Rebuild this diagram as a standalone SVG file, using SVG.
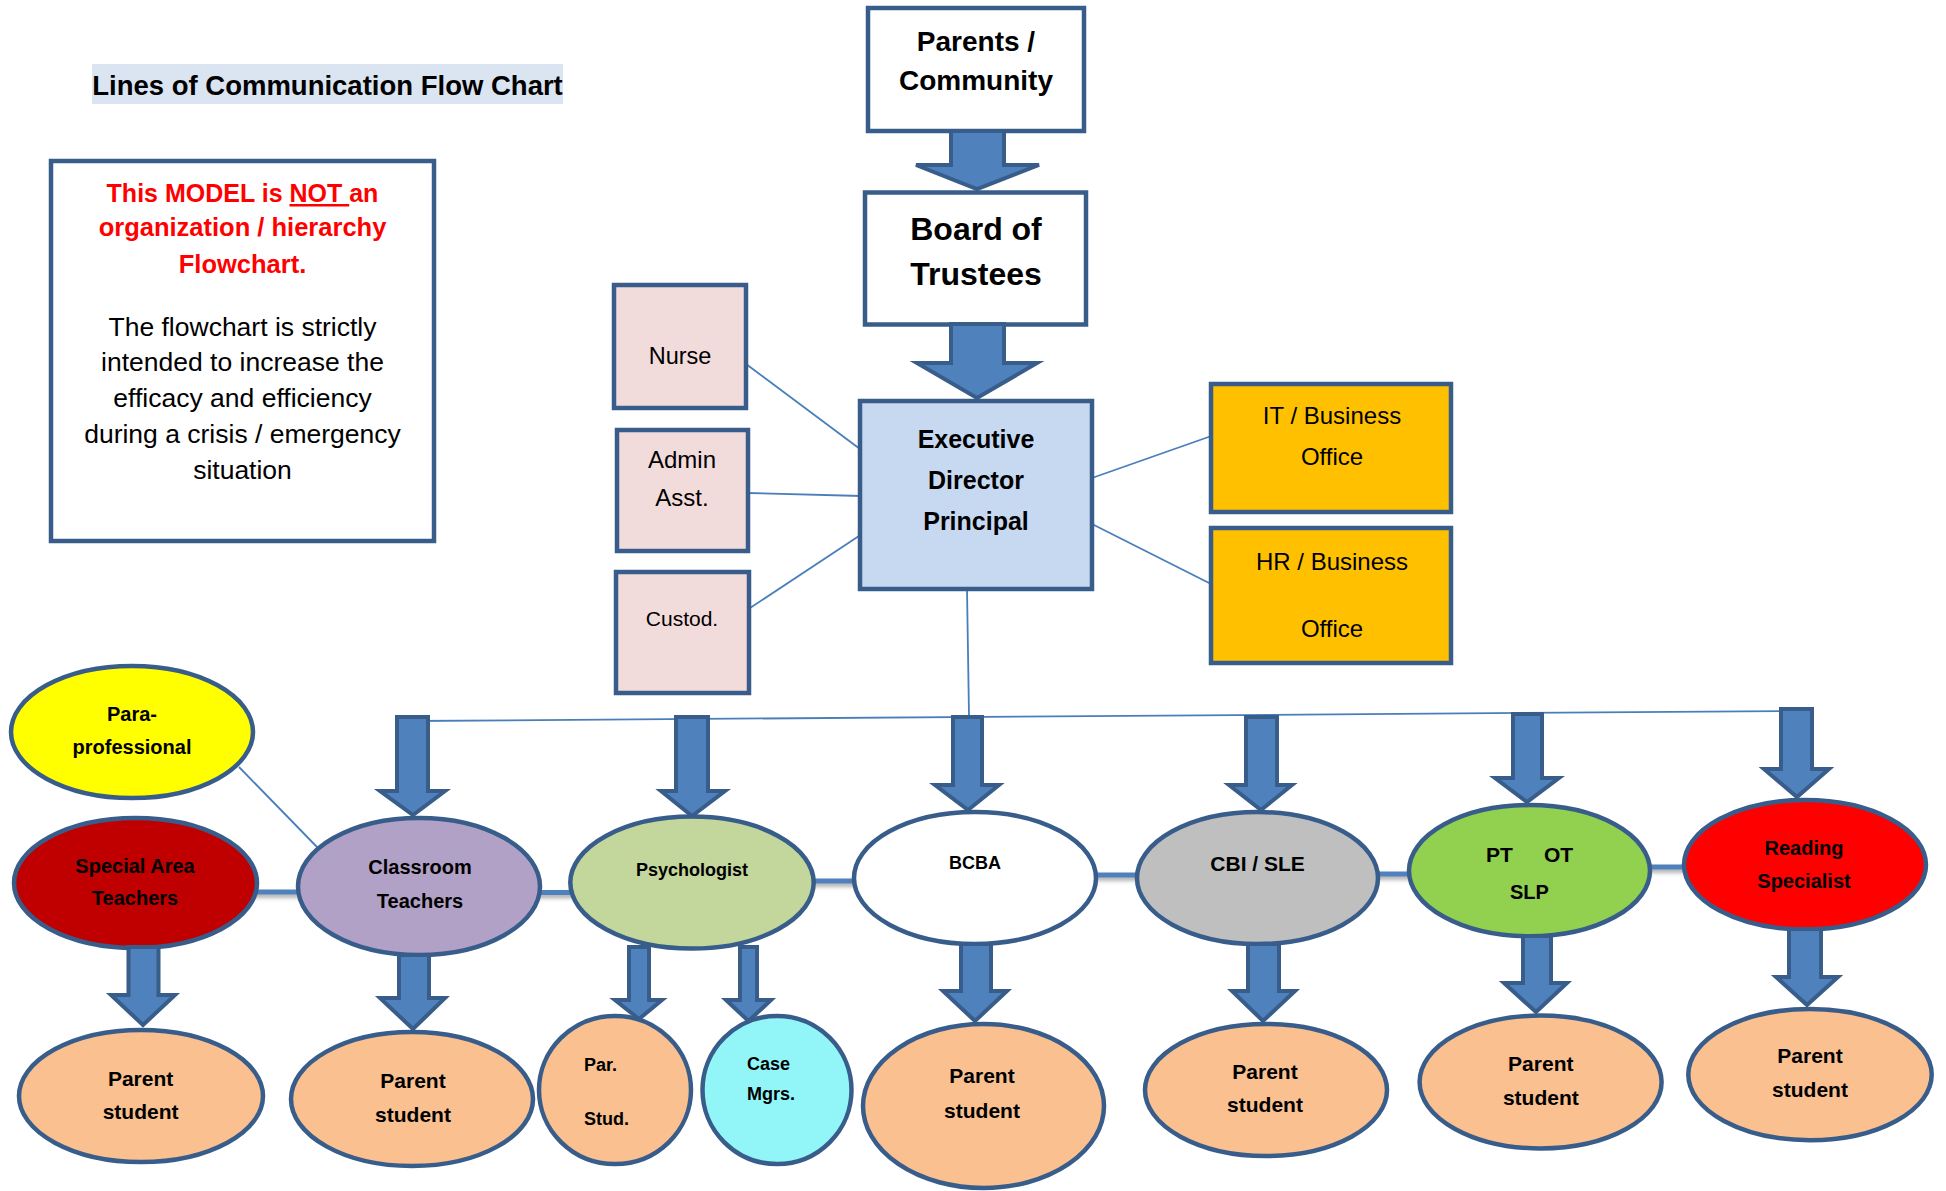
<svg xmlns="http://www.w3.org/2000/svg" width="1946" height="1191" viewBox="0 0 1946 1191">
<defs>
<style>
text{font-family:"Liberation Sans",Arial,sans-serif;fill:#000;text-anchor:middle}
.b{font-weight:bold}
.box{stroke:#385D8A;stroke-width:4.5}
.ell{stroke:#385D8A;stroke-width:4.5}
.arr{fill:#4F81BD;stroke:#385D8A;stroke-width:4;stroke-linejoin:miter}
.thin{stroke:#4A7EBB;stroke-width:1.8;fill:none}
.bar{stroke:#4F81BD;stroke-width:5;fill:none}
.ps{fill:#FAC090}
.red{fill:#FF0000}
.st{text-anchor:start}
</style>
<filter id="sh" x="-20%" y="-100%" width="140%" height="400%">
<feDropShadow dx="0" dy="3" stdDeviation="2" flood-color="#808080" flood-opacity="0.7"/>
</filter>
</defs>
<rect width="1946" height="1191" fill="#fff"/>

<g id="title">
<rect x="92" y="64" width="471" height="40" fill="#DBE5F1"/>
<text class="b" x="327.5" y="95" font-size="27.5">Lines of Communication Flow Chart</text>
</g>

<g id="note">
<rect class="box" x="51" y="161" width="383" height="380" fill="#fff"/>
<text class="b red" x="242.5" y="202" font-size="25">This MODEL is <tspan text-decoration="underline">NOT </tspan>an</text>
<text class="b red" x="242.5" y="236" font-size="25.5">organization / hierarchy</text>
<text class="b red" x="242.5" y="273" font-size="25.5">Flowchart.</text>
<text x="242.5" y="336" font-size="26.5">The flowchart is strictly</text>
<text x="242.5" y="371" font-size="26.5">intended to increase the</text>
<text x="242.5" y="407" font-size="26.5">efficacy and efficiency</text>
<text x="242.5" y="443" font-size="26.5">during a crisis / emergency</text>
<text x="242.5" y="479" font-size="26.5">situation</text>
</g>

<g id="connectors">
<line class="thin" x1="746" y1="364" x2="860" y2="449"/>
<line class="thin" x1="748" y1="493" x2="862" y2="496"/>
<line class="thin" x1="750" y1="608" x2="865" y2="532"/>
<line class="thin" x1="1092" y1="478" x2="1217" y2="434"/>
<line class="thin" x1="1092" y1="524" x2="1217" y2="587"/>
<line class="thin" x1="967" y1="589" x2="969" y2="716"/>
<line class="thin" x1="413" y1="721" x2="1797" y2="711"/>
<line class="thin" x1="239" y1="767" x2="317" y2="847"/>
<g filter="url(#sh)">
<line class="bar" x1="253" y1="892" x2="300" y2="892"/>
<line class="bar" x1="532" y1="892.5" x2="573" y2="892.5"/>
<line class="bar" x1="812" y1="881" x2="856" y2="881"/>
<line class="bar" x1="1094" y1="875" x2="1139" y2="875"/>
<line class="bar" x1="1376" y1="874" x2="1411" y2="874"/>
<line class="bar" x1="1648" y1="867" x2="1686" y2="867"/>
</g>
</g>

<g id="parents">
<rect class="box" x="868" y="8" width="216" height="123" fill="#fff"/>
<text class="b" x="976" y="51" font-size="28">Parents /</text>
<text class="b" x="976" y="90" font-size="28">Community</text>
</g>
<g id="board">
<rect class="box" x="865" y="192.5" width="221" height="132" fill="#fff"/>
<text class="b" x="976" y="240" font-size="32">Board of</text>
<text class="b" x="976" y="285" font-size="32">Trustees</text>
</g>
<g id="exec">
<rect class="box" x="860" y="401" width="232" height="188" fill="#C6D9F1"/>
<text class="b" x="976" y="448" font-size="25">Executive</text>
<text class="b" x="976" y="489" font-size="25">Director</text>
<text class="b" x="976" y="530" font-size="25">Principal</text>
</g>
<g id="nurse">
<rect class="box" x="614" y="285" width="132" height="123" fill="#F2DCDB"/>
<text x="680" y="364" font-size="23.5">Nurse</text>
</g>
<g id="admin">
<rect class="box" x="617" y="430" width="131" height="121" fill="#F2DCDB"/>
<text x="682" y="468" font-size="24">Admin</text>
<text x="682" y="506" font-size="24">Asst.</text>
</g>
<g id="custod">
<rect class="box" x="616" y="572" width="133" height="121" fill="#F2DCDB"/>
<text x="682" y="626" font-size="21">Custod.</text>
</g>
<g id="it">
<rect class="box" x="1211" y="384" width="240" height="128" fill="#FFC000"/>
<text x="1332" y="424" font-size="24">IT / Business</text>
<text x="1332" y="465" font-size="24">Office</text>
</g>
<g id="hr">
<rect class="box" x="1211" y="528" width="240" height="135" fill="#FFC000"/>
<text x="1332" y="570" font-size="24">HR / Business</text>
<text x="1332" y="637" font-size="24">Office</text>
</g>

<g id="para">
<ellipse class="ell" cx="132" cy="732" rx="121" ry="66" fill="#FFFF00"/>
<text class="b" x="132" y="721" font-size="20">Para-</text>
<text class="b" x="132" y="753.5" font-size="20">professional</text>
</g>
<g id="special">
<ellipse class="ell" cx="135.5" cy="883" rx="121.5" ry="65" fill="#C00000"/>
<text class="b" x="135" y="872.6" font-size="20">Special Area</text>
<text class="b" x="135" y="905" font-size="20">Teachers</text>
</g>
<g id="classroom">
<ellipse class="ell" cx="419" cy="886.5" rx="121" ry="68.5" fill="#B2A1C7"/>
<text class="b" x="420" y="874" font-size="20">Classroom</text>
<text class="b" x="420" y="908" font-size="20">Teachers</text>
</g>
<g id="psych">
<ellipse class="ell" cx="692" cy="882.6" rx="121.7" ry="66" fill="#C3D69B"/>
<text class="b" x="692" y="876" font-size="18">Psychologist</text>
</g>
<g id="bcba">
<ellipse class="ell" cx="975" cy="878" rx="121" ry="66" fill="#fff"/>
<text class="b" x="975" y="869" font-size="18">BCBA</text>
</g>
<g id="cbi">
<ellipse class="ell" cx="1257.5" cy="878" rx="120.5" ry="66" fill="#BFBFBF"/>
<text class="b" x="1257.6" y="871" font-size="21">CBI / SLE</text>
</g>
<g id="pt">
<ellipse class="ell" cx="1529.5" cy="870.7" rx="120.5" ry="65.6" fill="#92D050"/>
<text class="b st" x="1486" y="862" font-size="21">PT</text>
<text class="b st" x="1544" y="862" font-size="21">OT</text>
<text class="b" x="1529.4" y="899" font-size="20">SLP</text>
</g>
<g id="reading">
<ellipse class="ell" cx="1805" cy="864.8" rx="121" ry="64.7" fill="#FF0000"/>
<text class="b" x="1804" y="855" font-size="20">Reading</text>
<text class="b" x="1804" y="888" font-size="20">Specialist</text>
</g>

<g id="ps1">
<ellipse class="ell ps" cx="141" cy="1096" rx="122" ry="66"/>
<text class="b" x="140.6" y="1085.5" font-size="21">Parent</text>
<text class="b" x="140.6" y="1119" font-size="21">student</text>
</g>
<g id="ps2">
<ellipse class="ell ps" cx="412" cy="1099" rx="121" ry="67"/>
<text class="b" x="413" y="1088" font-size="21">Parent</text>
<text class="b" x="413" y="1122" font-size="21">student</text>
</g>
<g id="parstud">
<ellipse class="ell ps" cx="615" cy="1090" rx="76" ry="74"/>
<text class="b st" x="584" y="1071" font-size="18">Par.</text>
<text class="b st" x="584" y="1124.5" font-size="18">Stud.</text>
</g>
<g id="case">
<ellipse class="ell" cx="777" cy="1090" rx="74.5" ry="74" fill="#92F6F8"/>
<text class="b st" x="747" y="1070" font-size="18">Case</text>
<text class="b st" x="747" y="1100" font-size="18">Mgrs.</text>
</g>
<g id="ps3">
<ellipse class="ell ps" cx="983.5" cy="1106" rx="120.5" ry="82"/>
<text class="b" x="982" y="1083" font-size="21">Parent</text>
<text class="b" x="982" y="1117.6" font-size="21">student</text>
</g>
<g id="ps4">
<ellipse class="ell ps" cx="1266" cy="1090" rx="121" ry="66"/>
<text class="b" x="1265" y="1078.6" font-size="21">Parent</text>
<text class="b" x="1265" y="1112.4" font-size="21">student</text>
</g>
<g id="ps5">
<ellipse class="ell ps" cx="1540.6" cy="1082" rx="121" ry="66.4"/>
<text class="b" x="1540.8" y="1071" font-size="21">Parent</text>
<text class="b" x="1540.8" y="1104.8" font-size="21">student</text>
</g>
<g id="ps6">
<ellipse class="ell ps" cx="1810" cy="1074.6" rx="121.7" ry="65.6"/>
<text class="b" x="1810" y="1063.4" font-size="21">Parent</text>
<text class="b" x="1810" y="1097" font-size="21">student</text>
</g>

<g id="arrows">
<path class="arr" d="M951,131 H1004 V165 H1039 L977,189 L916,165 H951 Z"/>
<path class="arr" d="M951,324 H1004 V363 H1037 L977,398 L917,363 H951 Z"/>
<path class="arr" d="M397,717 H428 V791 H445 L413,815 L380,791 H397 Z"/>
<path class="arr" d="M676,717 H708 V791 H725 L692,816 L661,791 H676 Z"/>
<path class="arr" d="M953,717 H982 V785 H999 L968,810 L935,785 H953 Z"/>
<path class="arr" d="M1246,717 H1277 V785 H1292 L1261,810 L1229,785 H1246 Z"/>
<path class="arr" d="M1513,714 H1542 V778 H1559 L1527,802 L1495,778 H1513 Z"/>
<path class="arr" d="M1781,709 H1812 V769 H1829 L1797,797 L1764,769 H1781 Z"/>
<path class="arr" d="M128.5,947 H158.5 V995 H175 L143,1025 L111,995 H128.5 Z"/>
<path class="arr" d="M399,955 H429 V998 H445 L413,1029 L380,998 H399 Z"/>
<path class="arr" d="M629,947 H649 V1000 H662 L639,1019 L615,1000 H629 Z"/>
<path class="arr" d="M740,947 H757 V1000 H771 L748.5,1021 L726,1000 H740 Z"/>
<path class="arr" d="M961,944 H991 V991 H1007 L975,1021 L943,991 H961 Z"/>
<path class="arr" d="M1248,944 H1279 V991 H1295 L1263,1021 L1232,991 H1248 Z"/>
<path class="arr" d="M1523,936 H1551 V983 H1567 L1536,1012 L1504,983 H1523 Z"/>
<path class="arr" d="M1789,929 H1821 V977 H1838 L1807,1005 L1776,977 H1789 Z"/>
</g>
</svg>
